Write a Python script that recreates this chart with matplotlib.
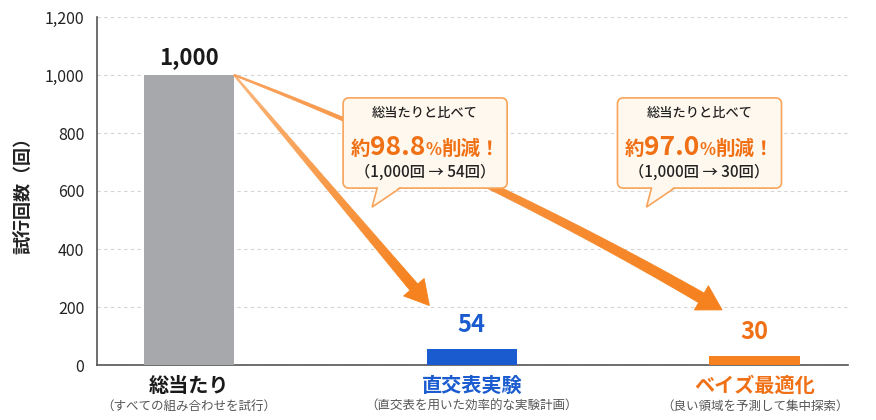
import numpy as np
import matplotlib.pyplot as plt
from matplotlib.patches import FancyBboxPatch, Polygon
from matplotlib.transforms import IdentityTransform
from matplotlib.colors import to_rgb

plt.rcParams['font.family'] = ['Noto Sans CJK JP', 'DejaVu Sans']

# data
methods = ['総当たり', '直交表実験', 'ベイズ最適化']
notes = ['（すべての組み合わせを試行）', '（直交表を用いた効率的な実験計画）', '（良い領域を予測して集中探索）']
trials = [1000, 54, 30]
value_labels = ['1,000', '54', '30']
reduction_pct = ['98.8', '97.0']
reduction_from = ['1,000回 → 54回', '1,000回 → 30回']
yticks = [0, 200, 400, 600, 800, 1000, 1200]

bar_colors = ['#a6a8ab', '#1a5ccf', '#f5821f']
text_colors = ['#1a1a1a', '#1a5ccf', '#f07016']
orange = '#f07016'
dark = '#222222'

fig = plt.figure(figsize=(8.76, 4.2), dpi=100)
ax = fig.add_axes([97 / 876, 55 / 420, 751 / 876, 348 / 420])

x = np.arange(len(methods))
w = 0.32
ax.bar(x, trials, width=w, color=bar_colors, zorder=3)
ax.set_xlim(-0.325, 2.33)
ax.set_ylim(0, 1200)

ax.set_yticks(yticks)
ax.set_yticklabels([f'{v:,}' for v in yticks])
ax.tick_params(axis='y', length=0, labelsize=11.5, pad=9, labelcolor=dark)
ax.set_ylabel('試行回数（回）', fontsize=13, fontweight='bold', labelpad=9, color=dark)
ax.yaxis.grid(True, linestyle=(0, (3, 3)), color='#d4d4d4', linewidth=0.8)
ax.set_axisbelow(True)
for s in ['top', 'right']:
    ax.spines[s].set_visible(False)
for s in ['left', 'bottom']:
    ax.spines[s].set_color('#555555')
    ax.spines[s].set_linewidth(1.2)

ax.set_xticks(x)
ax.set_xticklabels(methods, fontsize=14.5, fontweight='bold')
ax.tick_params(axis='x', length=0, pad=7)
for lbl, c in zip(ax.get_xticklabels(), text_colors):
    lbl.set_color(c)
for xi, note in zip(x, notes):
    ax.text(xi, -0.118, note, transform=ax.get_xaxis_transform(), ha='center', va='center',
            fontsize=9, color='#555555')

for i, (xi, v, lbl) in enumerate(zip(x, trials, value_labels)):
    ax.annotate(lbl, (xi, v), xytext=(0, 4 if i == 0 else 9), textcoords='offset points',
                ha='center', va='bottom', fontsize=16 if i == 0 else 17, fontweight='bold',
                color=text_colors[i], zorder=6)


def taper_arrow(p0, p1, bend, w0, w1, head_w, head_len, c0, c1, n=40, z=4):
    tr = ax.transData
    a = np.array(tr.transform(p0))
    b = np.array(tr.transform(p1))
    d = b - a
    L = np.hypot(*d)
    nrm = np.array([-d[1], d[0]]) / L
    c = (a + b) / 2 + nrm * bend
    t = np.linspace(0, 1, 500)[:, None]
    pts = (1 - t) ** 2 * a + 2 * (1 - t) * t * c + t ** 2 * b
    s = np.concatenate([[0], np.cumsum(np.hypot(*np.diff(pts, axis=0).T))])
    stop = s[-1] - head_len
    ss = np.linspace(0, stop, n + 1)
    px = np.interp(ss, s, pts[:, 0])
    py = np.interp(ss, s, pts[:, 1])
    tx, ty = np.gradient(px), np.gradient(py)
    tl = np.hypot(tx, ty)
    perp = np.stack([-ty / tl, tx / tl], axis=1)
    ctr = np.stack([px, py], axis=1)
    wid = (w0 + (w1 - w0) * ss / stop)[:, None]
    left = ctr + perp * wid / 2
    right = ctr - perp * wid / 2
    ca, cb = np.array(to_rgb(c0)), np.array(to_rgb(c1))
    for i in range(n):
        col = ca + (cb - ca) * (i / (n - 1))
        poly = [left[i], left[i + 1], right[i + 1], right[i]]
        ax.add_patch(Polygon(poly, closed=True, transform=IdentityTransform(), facecolor=col,
                             edgecolor=col, lw=0.6, clip_on=False, zorder=z))
    tip = pts[-1]
    base = ctr[-1]
    u = (tip - base) / np.hypot(*(tip - base))
    pp = np.array([-u[1], u[0]])
    head = [base + pp * head_w / 2, tip, base - pp * head_w / 2]
    ax.add_patch(Polygon(head, closed=True, transform=IdentityTransform(), facecolor=c1,
                         edgecolor=c1, lw=0.6, clip_on=False, zorder=z))


start = (x[0] + w / 2, trials[0])
taper_arrow(start, (x[1] - 0.15, 205), 0, 1.4, 10, 27, 24, '#fab478', '#f5821f')
taper_arrow(start, (x[2] - 0.115, 190), 22, 1.4, 11, 28, 24, '#f8a05a', '#f5821f', z=4)

# callouts
box_x = [0.545, 1.515]
box_w = 0.58
box_y = (610, 921)
renderer = fig.canvas.get_renderer()
for bx, pct, frm in zip(box_x, reduction_pct, reduction_from):
    (l, b_), (r, t_) = ax.transData.transform([(bx, box_y[0]), (bx + box_w, box_y[1])])
    box = FancyBboxPatch((l, b_), r - l, t_ - b_, boxstyle='round,pad=0,rounding_size=6',
                         transform=IdentityTransform(), facecolor='#fff8ee', edgecolor='#f8a45a',
                         lw=1.2, clip_on=False, zorder=8)
    ax.add_patch(box)
    p1 = (l + 34, b_ + 1.5)
    p2 = (l + 57, b_ + 1.5)
    tipp = (l + 29, b_ - 19)
    ax.add_patch(Polygon([p1, tipp, p2], closed=True, transform=IdentityTransform(),
                         facecolor='#fff8ee', edgecolor='none', clip_on=False, zorder=9))
    ax.plot([p1[0], tipp[0], p2[0]], [b_, tipp[1], b_], color='#f8a45a', lw=1.2,
            transform=IdentityTransform(), clip_on=False, zorder=10, solid_joinstyle='miter')
    cx = (l + r) / 2
    ax.text(cx, t_ - 15, '総当たりと比べて', transform=IdentityTransform(), ha='center', va='center',
            fontsize=9.5, fontweight='medium', color=dark, zorder=11)
    ax.text(cx, t_ - 74, f'（{frm}）', transform=IdentityTransform(), ha='center', va='center',
            fontsize=11, fontweight='medium', color=dark, zorder=11)
    parts = [('約', 14), (pct, 19), ('%', 12), ('削減！', 14)]
    texts = []
    for s_, fs in parts:
        tt = ax.text(0, t_ - 57, s_, transform=IdentityTransform(), ha='left', va='baseline',
                     fontsize=fs, fontweight='bold', color=orange, zorder=11)
        texts.append(tt)
    widths = [tt.get_window_extent(renderer).width for tt in texts]
    xpos = cx - sum(widths) / 2
    for tt, wd in zip(texts, widths):
        tt.set_x(xpos)
        xpos += wd

fig.savefig('out.png', dpi=100)
